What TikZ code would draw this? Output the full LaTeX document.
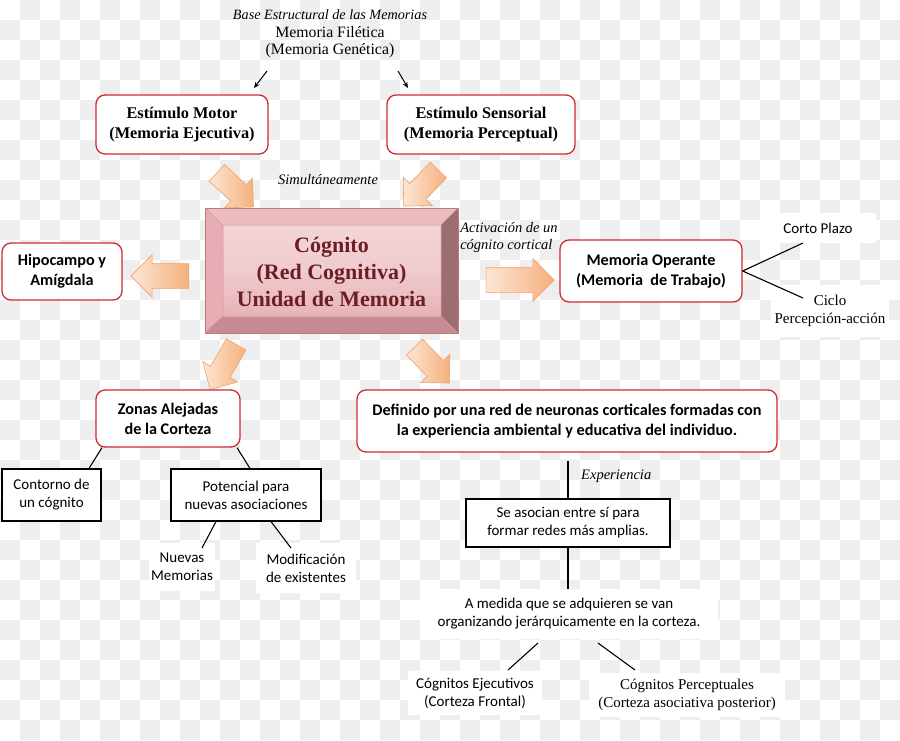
\documentclass[tikz,border=0pt]{standalone}
\usepackage{fontspec}
\setmainfont{Liberation Serif}
\newfontfamily\calib{Carlito}
\usetikzlibrary{shapes.arrows,shadings,calc,arrows.meta}
\definecolor{redline}{HTML}{CF2A30}
\definecolor{checkgray}{HTML}{EEEEEE}
\definecolor{arrowA}{HTML}{FDE6D4}
\definecolor{arrowB}{HTML}{F5B07C}
\definecolor{arrowE}{HTML}{EFA270}
\definecolor{cgtop}{HTML}{ECBCC0}
\definecolor{cgleft}{HTML}{E6AEB4}
\definecolor{cgright}{HTML}{9E6D72}
\definecolor{cgbottom}{HTML}{C58C93}
\definecolor{cgfaceA}{HTML}{F3D5D8}
\definecolor{cgfaceB}{HTML}{E7B3B8}
\definecolor{cgedge}{HTML}{C07880}
\definecolor{cgtext}{HTML}{6B1E24}
\begin{document}
\begin{tikzpicture}[x=1pt,y=-1pt,
  redbox/.style={draw=redline, line width=1.3pt, rounded corners=9pt, fill=white, align=center, inner sep=0pt},
  blackbox/.style={draw=black, line width=1.1pt, fill=white, align=center, inner sep=0pt},
  plainbox/.style={fill=white, align=center, inner sep=0pt},
  bsans/.style={font=\calib\bfseries\fontsize{16.2}{20}\selectfont},
  rsans/.style={font=\calib\fontsize{15}{18}\selectfont},
  bserif/.style={font=\bfseries\fontsize{16.3}{20}\selectfont},
  rserif/.style={font=\fontsize{15}{18}\selectfont},
  itlabel/.style={font=\itshape\fontsize{14.5}{17}\selectfont, align=left, inner sep=0pt},
  blockarrow/.style={single arrow, draw=arrowE, line width=0.6pt, left color=arrowA, right color=arrowB,
     inner xsep=0pt, single arrow head extend=9pt, single arrow tip angle=90},
  conn/.style={line width=1.1pt, black},
  smallarrow/.style={line width=1pt, -{Stealth[length=6pt,width=5pt]}}
]
\useasboundingbox (0,0) rectangle (900,740);
\fill[white] (0,0) rectangle (900,740);
% checkerboard background
\foreach \i in {0,...,44}{\foreach \j in {0,...,36}{%
  \pgfmathtruncatemacro\s{mod(\i+\j,2)}%
  \ifnum\s=1 \fill[checkgray] (\i*20,\j*20) rectangle ++(20,20);\fi}}

% top text
\node[align=center, inner sep=0pt, font=\fontsize{15.8}{17.5}\selectfont] (base) at (330,34)
  {{\itshape\fontsize{14.2}{17.5}\selectfont Base Estructural de las Memorias}\\
   Memoria Filética\\
   (Memoria Genética)};
\coordinate (ta1) at (267,71);
\coordinate (ta2) at (398,71);
\coordinate (tb1) at (254,88);
\coordinate (tb2) at (408,88);

% top boxes
\node[redbox, bserif, minimum width=172, minimum height=59] (motor) at (182,124.5)
  {Estímulo Motor\\(Memoria Ejecutiva)};
\node[redbox, bserif, minimum width=188, minimum height=59] (sens) at (481,124.5)
  {Estímulo Sensorial\\(Memoria Perceptual)};
\draw[smallarrow] (ta1) -- (tb1);
\draw[smallarrow] (ta2) -- (tb2);

% Cognito bevelled block
\fill[cgtop] (205,208) -- (458,208) -- (441,225) -- (223,225) -- cycle;
\fill[cgleft] (205,208) -- (223,225) -- (223,316) -- (205,333) -- cycle;
\fill[cgright] (458,208) -- (458,333) -- (441,316) -- (441,225) -- cycle;
\fill[cgbottom] (205,333) -- (458,333) -- (441,316) -- (223,316) -- cycle;
\shade[top color=cgfaceA, bottom color=cgfaceB, middle color=cgfaceA!70!cgfaceB] (223,225) rectangle (441,316);
\draw[cgedge, line width=0.8pt] (205,208) rectangle (458,333);
\draw[cgedge!80, line width=0.5pt] (223,225) rectangle (441,316)
  (205,208) -- (223,225) (458,208) -- (441,225) (205,333) -- (223,316) (458,333) -- (441,316);
\node[align=center, text=cgtext, font=\bfseries\fontsize{22}{27}\selectfont, inner sep=0pt,
  minimum width=253, minimum height=125] (cognito) at (331.5,271.5)
  {Cógnito\\(Red Cognitiva)\\Unidad de Memoria};

% block arrows into cognito
\node[blockarrow, minimum height=50, inner ysep=11pt, rotate=-43] (a1) at (231,186) {};
\node[blockarrow, minimum height=50, inner ysep=11pt, rotate=-134] (a2) at (425,184) {};
\node[itlabel] (simul) at (328,180) {Simultáneamente};

% left
\node[blockarrow, minimum height=58, inner ysep=12pt, rotate=180] (a3) at (166,276) {};
\node[redbox, bsans, minimum width=120, minimum height=57] (hipo) at (62,271.5)
  {Hipocampo y\\Amígdala};

% right
\node[blockarrow, minimum height=68, inner ysep=12pt, rotate=0] (a4) at (514,280) {};
\node[itlabel] (activ) at (509,237) {Activación de un\\cógnito cortical};
\node[redbox, bsans, minimum width=182, minimum height=62] (mo) at (651,271)
  {Memoria Operante\\(Memoria\ \ de Trabajo)};
\node[plainbox, rsans, minimum width=116, minimum height=30] (corto) at (818,228) {Corto Plazo};
\node[plainbox, rserif, minimum width=118, minimum height=52, align=center] (ciclo) at (830,311)
  {Ciclo\\Percepción-acción};
\coordinate (c1) at (803,243);
\coordinate (c2) at (803,298);
\draw[conn] (mo.east) -- (c1);
\draw[conn] (mo.east) -- (c2);

% lower block arrows
\node[blockarrow, minimum height=52, inner ysep=11pt, rotate=-120] (a5) at (226,362) {};
\node[blockarrow, minimum height=50, inner ysep=11pt, rotate=-46] (a6) at (428,361) {};

% Zonas branch
\node[redbox, bsans, minimum width=144, minimum height=57] (zonas) at (168,418.5)
  {Zonas Alejadas\\de la Corteza};
\node[blackbox, rsans, minimum width=99, minimum height=52] (contorno) at (51.5,495)
  {Contorno de\\un cógnito};
\node[blackbox, rsans, minimum width=150, minimum height=52] (pot) at (246,495)
  {Potencial para\\nuevas asociaciones};
\draw[conn] (zonas.south -| 102,0) -- (contorno.north -| 89,0);
\draw[conn] (zonas.south -| 237,0) -- (pot.north -| 250,0);
\node[plainbox, rsans, minimum width=66, minimum height=48] (nuevas) at (182,567)
  {Nuevas\\Memorias};
\node[plainbox, rsans, minimum width=100, minimum height=50] (modif) at (306,568)
  {Modificación\\de existentes};
\coordinate (n1) at (202,548);
\coordinate (m1) at (291,548);
\draw[conn] (pot.south -| 216,0) -- (n1);
\draw[conn] (pot.south -| 271,0) -- (m1);

% Definido branch
\node[redbox, bsans, minimum width=420, minimum height=62] (def) at (567,421)
  {Definido por una red de neuronas corticales formadas con\\la experiencia ambiental y educativa del individuo.};
\node[blackbox, rsans, minimum width=204, minimum height=48] (seaso) at (568,523)
  {Se asocian entre sí para\\formar redes más amplias.};
\coordinate (e1) at (568,461);
\draw[conn] (e1) -- (seaso.north);
\node[itlabel, anchor=west] (exper) at (581,476) {Experiencia};
\node[plainbox, rsans, minimum width=298, minimum height=50] (medida) at (569,614)
  {A medida que se adquieren se van\\organizando jerárquicamente en la corteza.};
\draw[conn] (seaso.south) -- (medida.north -| seaso.south);
\node[plainbox, rsans, minimum width=134, minimum height=44] (ejec) at (475,693)
  {Cógnitos Ejecutivos\\(Corteza Frontal)};
\node[plainbox, rserif, minimum width=196, minimum height=44] (perc) at (687,695)
  {Cógnitos Perceptuales\\(Corteza asociativa posterior)};
\coordinate (k1) at (538,643);
\coordinate (k2) at (598,643);
\coordinate (k3) at (508,670);
\coordinate (k4) at (635,670);
\draw[conn] (k1) -- (k3);
\draw[conn] (k2) -- (k4);
\end{tikzpicture}
\end{document}
